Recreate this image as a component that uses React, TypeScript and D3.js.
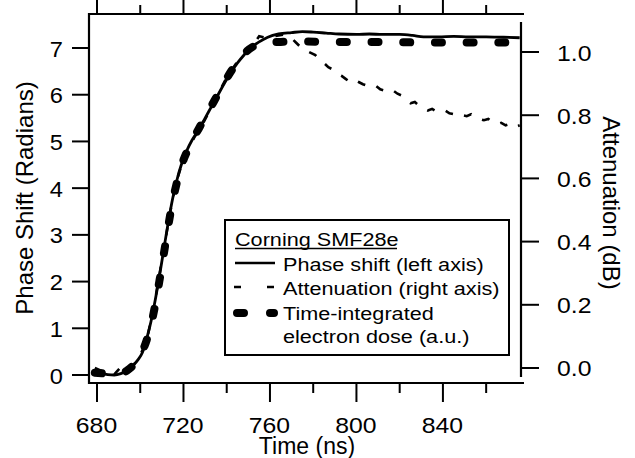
import React from "react";
import * as d3 from "d3";

// ---------- data ----------
const phaseShift: [number, number][] = [
  [679, 0.06], [682, 0.04], [685, 0.01], [688, 0.0], [691, 0.03], [694, 0.1],
  [697, 0.22], [699, 0.33], [701, 0.48], [703, 0.78], [705, 1.15], [707, 1.62],
  [709, 2.15], [711, 2.72], [713, 3.28], [715, 3.78], [717, 4.18], [719, 4.5],
  [721.5, 4.8], [724, 5.03], [727, 5.25], [730, 5.5], [733, 5.75], [736, 6.0],
  [739, 6.25], [742, 6.48], [745, 6.68], [748, 6.85], [751, 7.0], [755, 7.13],
  [759, 7.23], [764, 7.3], [770, 7.33], [775, 7.35], [780, 7.34], [786, 7.32],
  [792, 7.3], [800, 7.29], [806, 7.3], [812, 7.29], [820, 7.29], [826, 7.27],
  [831, 7.24], [838, 7.24], [845, 7.25], [852, 7.24], [860, 7.24], [868, 7.23],
  [875.5, 7.22],
];

const electronDose: [number, number][] = [
  [679, 0.05], [684, 0.03], [689, 0.02], [694, 0.1], [697, 0.22], [700, 0.42],
  [703, 0.75], [705, 1.08], [707, 1.52], [709, 2.05], [711, 2.62], [713, 3.2],
  [715, 3.72], [717, 4.13], [719, 4.47], [722, 4.82], [725, 5.1], [728, 5.35],
  [731, 5.6], [734, 5.85], [737, 6.1], [740, 6.35], [743, 6.57], [746, 6.76],
  [749, 6.92], [753, 7.05], [758, 7.12], [765, 7.13], [775, 7.14], [790, 7.13],
  [810, 7.13], [830, 7.12], [850, 7.12], [875.5, 7.12],
];

const attenuation: [number, number][] = [
  [679, 0.0], [684, -0.015], [688, -0.02], [691, 0.003], [694, -0.005],
  [697, 0.01], [700, 0.04], [703, 0.09], [705, 0.15], [707, 0.22], [709, 0.3],
  [711, 0.38], [713, 0.46], [715, 0.535], [717, 0.595], [719, 0.64], [722, 0.69],
  [725, 0.73], [728, 0.76], [731, 0.8], [734, 0.84], [737, 0.88], [740, 0.92],
  [743, 0.95], [746, 0.98], [749, 1.0], [752, 1.02], [755, 1.05], [758, 1.045],
  [762, 1.05], [766, 1.055], [769, 1.05], [772, 1.03], [775, 1.01], [778, 1.0],
  [781, 0.99], [783, 0.975], [785, 0.965], [787, 0.952], [789, 0.945],
  [791, 0.932], [793, 0.925], [795, 0.915], [797, 0.905], [799, 0.912],
  [801, 0.905], [803, 0.898], [805, 0.893], [807, 0.888], [809, 0.893],
  [811, 0.882], [813, 0.878], [815, 0.872], [817, 0.878], [819, 0.868],
  [821, 0.862], [823, 0.852], [825, 0.838], [827, 0.842], [829, 0.83],
  [831, 0.822], [833, 0.815], [835, 0.82], [837, 0.812], [839, 0.81],
  [841, 0.815], [843, 0.806], [845, 0.803], [847, 0.808], [849, 0.8],
  [851, 0.797], [853, 0.803], [855, 0.792], [857, 0.788], [859, 0.784],
  [861, 0.788], [863, 0.778], [865, 0.772], [867, 0.776], [869, 0.768],
  [871, 0.772], [873, 0.762], [875.5, 0.768],
];

const xMajorTicks = [680, 720, 760, 800, 840];
const xMinorTicks = [700, 740, 780, 820, 860];
const leftTicks = [0, 1, 2, 3, 4, 5, 6, 7];
const rightTicks = [0, 0.2, 0.4, 0.6, 0.8, 1.0];

const xTitle = "Time (ns)";
const leftTitle = "Phase Shift (Radians)";
const rightTitle = "Attenuation (dB)";
const legendTitle = "Corning SMF28e";
const legendLabels = [
  "Phase shift (left axis)",
  "Attenuation (right axis)",
  "Time-integrated",
  "electron dose (a.u.)",
];

// ---------- layout ----------
const W = 635;
const H = 458;
const plotLeft = 89;
const plotRight = 524;
const plotTop = 14;
const plotBottom = 383;
const rightAxisX = 521;
const FONT = "'Liberation Sans', Arial, Helvetica, sans-serif";

export default function App() {
  const x = d3.scaleLinear().domain([676.3, 877.5]).range([plotLeft, plotRight]);
  const yL = d3.scaleLinear().domain([-0.171, 7.728]).range([plotBottom, plotTop]);
  const yR = d3.scaleLinear().domain([-0.0475, 1.1203]).range([plotBottom, plotTop]);

  const lineL = d3
    .line<[number, number]>()
    .x((d) => x(d[0]))
    .y((d) => yL(d[1]))
    .curve(d3.curveMonotoneX);
  const lineR = d3
    .line<[number, number]>()
    .x((d) => x(d[0]))
    .y((d) => yR(d[1]))
    .curve(d3.curveLinear);

  const legX = 225;
  const legY = 220;
  const legW = 284;
  const legH = 135;
  const textScale = 1.17;
  const tickScale = 1.1;
  const textX = 283;
  const rowBase = [271, 295, 320, 343];

  return (
    <svg
      width={W}
      height={H}
      style={{ position: "absolute", left: 0, top: 0, background: "#fff" }}
      fontFamily={FONT}
    >
      <rect x={0} y={0} width={W} height={H} fill="#fff" />

      {/* data */}
      <path
        d={lineL(electronDose) || ""}
        fill="none"
        stroke="#000"
        strokeWidth={8}
        strokeLinecap="round"
        strokeDasharray="7 24.7"
      />
      <path
        d={lineR(attenuation) || ""}
        fill="none"
        stroke="#000"
        strokeWidth={2.6}
        strokeDasharray="8 12"
      />
      <path d={lineL(phaseShift) || ""} fill="none" stroke="#000" strokeWidth={2.8} />

      {/* top axis */}
      <line x1={plotLeft} x2={plotRight} y1={plotTop} y2={plotTop} stroke="#000" strokeWidth={2.2} />
      {xMajorTicks.map((t) => (
        <line key={"tM" + t} x1={x(t)} x2={x(t)} y1={plotTop} y2={0} stroke="#000" strokeWidth={2} />
      ))}
      {xMinorTicks.map((t) => (
        <line key={"tm" + t} x1={x(t)} x2={x(t)} y1={plotTop} y2={plotTop - 9} stroke="#000" strokeWidth={2} />
      ))}

      {/* bottom axis */}
      <line x1={plotLeft} x2={plotRight} y1={plotBottom} y2={plotBottom} stroke="#000" strokeWidth={2.2} />
      {xMajorTicks.map((t) => (
        <line key={"bM" + t} x1={x(t)} x2={x(t)} y1={plotBottom} y2={plotBottom + 19} stroke="#000" strokeWidth={2} />
      ))}
      {xMinorTicks.map((t) => (
        <line key={"bm" + t} x1={x(t)} x2={x(t)} y1={plotBottom} y2={plotBottom + 10} stroke="#000" strokeWidth={2} />
      ))}
      {xMajorTicks.map((t) => (
        <text
          key={"bl" + t}
          transform={`translate(${x(t) - 0.5}, 433) scale(${tickScale}, 1)`}
          fontSize={22.5}
          textAnchor="middle"
          fill="#000"
        >
          {t}
        </text>
      ))}
      <text x={307} y={454} fontSize={23} textAnchor="middle" fill="#000">
        {xTitle}
      </text>

      {/* left axis */}
      <line x1={plotLeft} x2={plotLeft} y1={plotTop - 1} y2={plotBottom + 1} stroke="#000" strokeWidth={2.2} />
      {leftTicks.map((t) => (
        <g key={"l" + t}>
          <line x1={plotLeft} x2={plotLeft - 17} y1={yL(t)} y2={yL(t)} stroke="#000" strokeWidth={2} />
          <text
            transform={`translate(63, ${yL(t) + 8.5}) scale(${tickScale}, 1)`}
            fontSize={21.5}
            textAnchor="end"
            fill="#000"
          >
            {t}
          </text>
        </g>
      ))}
      <text
        transform={`translate(33, 198) rotate(-90)`}
        fontSize={24}
        textAnchor="middle"
        fill="#000"
      >
        {leftTitle}
      </text>

      {/* right axis */}
      <line x1={rightAxisX} x2={rightAxisX} y1={22} y2={377} stroke="#000" strokeWidth={2.2} />
      {rightTicks.map((t) => (
        <g key={"r" + t}>
          <line x1={rightAxisX} x2={rightAxisX + 18} y1={yR(t)} y2={yR(t)} stroke="#000" strokeWidth={2} />
          <text
            transform={`translate(557, ${yR(t) + 8.5}) scale(${tickScale}, 1)`}
            fontSize={22.5}
            textAnchor="start"
            fill="#000"
          >
            {t.toFixed(1)}
          </text>
        </g>
      ))}
      <text
        transform={`translate(603, 203) rotate(90)`}
        fontSize={24}
        textAnchor="middle"
        fill="#000"
      >
        {rightTitle}
      </text>

      {/* legend */}
      <rect x={legX} y={legY} width={legW} height={legH} fill="#fff" stroke="#000" strokeWidth={2} />
      <text
        transform={`translate(235, 246) scale(${textScale}, 1)`}
        fontSize={18.5}
        fill="#000"
      >
        {legendTitle}
      </text>
      <line x1={235} x2={397} y1={248.5} y2={248.5} stroke="#000" strokeWidth={1.5} />
      <line x1={235} x2={275} y1={263} y2={263} stroke="#000" strokeWidth={2.6} />
      <line x1={234} x2={275} y1={287} y2={287} stroke="#000" strokeWidth={2.6} strokeDasharray="7 26" />
      <line
        x1={237}
        x2={274}
        y1={313}
        y2={313}
        stroke="#000"
        strokeWidth={8}
        strokeLinecap="round"
        strokeDasharray="7 26"
      />
      {legendLabels.map((s, i) => (
        <text
          key={s}
          transform={`translate(${textX}, ${rowBase[i]}) scale(${textScale}, 1)`}
          fontSize={18.5}
          fill="#000"
        >
          {s}
        </text>
      ))}
    </svg>
  );
}
